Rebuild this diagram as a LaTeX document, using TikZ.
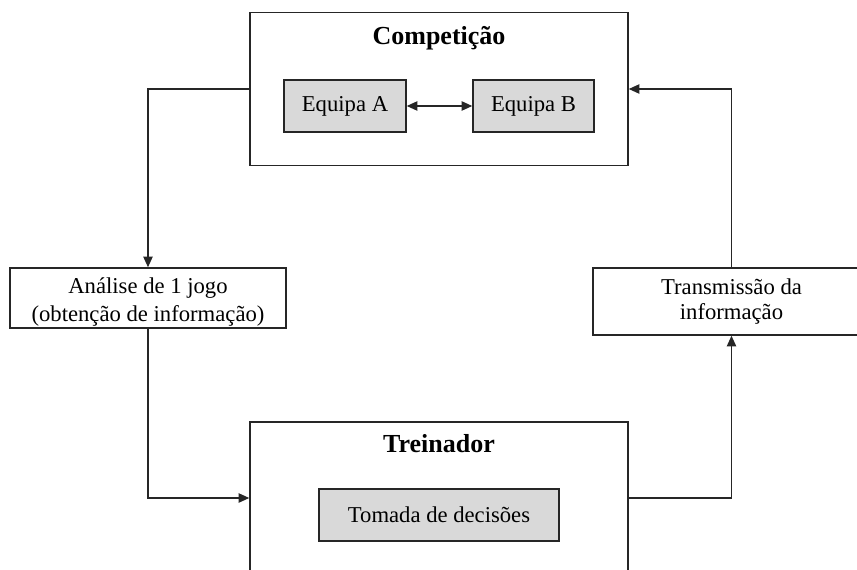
\documentclass[tikz,border=0pt]{standalone}
\usepackage{fontspec}
\setmainfont{Liberation Serif}
\usetikzlibrary{arrows.meta}
\tikzset{
  box/.style={draw=black!85, line width=1.1pt, fill=white, inner sep=0pt, align=center},
  graybox/.style={box, fill=black!15},
  txt/.style={font=\fontsize{17}{21}\selectfont},
  txtb/.style={font=\fontsize{17}{19}\selectfont},
  ttl/.style={font=\fontsize{19.5}{23}\selectfont\bfseries, inner sep=0pt},
  tip/.tip={Triangle[length=8pt,width=7pt]},
  conn/.style={line width=1.1pt, draw=black!85, -tip},
  dconn/.style={line width=1.1pt, draw=black!85, tip-tip}
}
\begin{document}
\begin{tikzpicture}[x=0.75pt,y=-0.75pt]
\useasboundingbox (0,0) rectangle (857,570);
\clip (0,0) rectangle (857,570);
% main boxes
\node[box, minimum width=283.5pt, minimum height=114.75pt] (comp) at (439,89) {};
\node[ttl] (compt) at (439,38) {Competição};
\node[graybox, txt, minimum width=91.5pt, minimum height=39pt] (eqa) at (345,106) {Equipa A};
\node[graybox, txt, minimum width=90.75pt, minimum height=39pt] (eqb) at (533.5,106) {Equipa B};
\node[box, minimum width=207pt, minimum height=45pt] (anal) at (148,298) {};
\node[txt, align=center, inner sep=0pt] (analt) at (148,302) {Análise de 1 jogo\\(obtenção de informação)};
\node[box, txtb, minimum width=207.75pt, minimum height=50.25pt] (trans) at (731.5,301.5) {Transmissão da\\informação};
\node[box, minimum width=283.5pt, minimum height=114pt] (trein) at (439,498) {};
\node[ttl] (treint) at (439,444) {Treinador};
\node[graybox, txt, minimum width=180pt, minimum height=39pt] (toma) at (439,515) {Tomada de decisões};
% connectors
\draw[dconn] (eqa) -- (eqb);
\draw[conn] (comp.west) -| (anal.north);
\draw[conn] (anal.south) |- (trein.west);
\draw[conn] (trein.east) -| (trans.south);
\draw[conn] (trans.north) |- (comp.east);
\end{tikzpicture}
\end{document}
